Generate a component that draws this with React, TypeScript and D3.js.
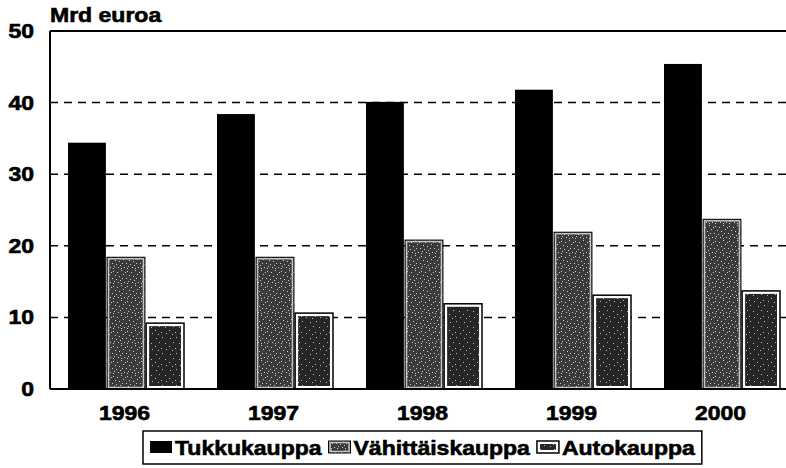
import React from "react";
import * as d3 from "d3";

const years = ["1996", "1997", "1998", "1999", "2000"];
const seriesNames = ["Tukkukauppa", "Vähittäiskauppa", "Autokauppa"];
const tukkukauppa = [34.4, 38.4, 40.1, 41.8, 45.4];
const vahittaiskauppa = [18.4, 18.4, 20.8, 21.9, 23.7];
const autokauppa = [9.2, 10.6, 11.9, 13.1, 13.7];
const yTicks = [0, 10, 20, 30, 40, 50];
const yTitle = "Mrd euroa";

const W = 786;
const H = 468;
const FONT = "'Liberation Sans', Arial, sans-serif";
const STRETCH = 1.15;

function measure(text: string, size: number) {
  if (typeof document === "undefined") return text.length * size * 0.6;
  const c = document.createElement("canvas");
  const ctx = c.getContext("2d");
  if (!ctx) return text.length * size * 0.6;
  ctx.font = `bold ${size}px 'Liberation Sans'`;
  return ctx.measureText(text).width;
}

function SText(props: { x: number; y: number; text: string; size: number; anchor?: string }) {
  const w = measure(props.text, props.size) * STRETCH;
  let x = props.x;
  if (props.anchor === "middle") x = props.x - w / 2;
  if (props.anchor === "end") x = props.x - w;
  return (
    <text
      x={x}
      y={props.y}
      fontFamily={FONT}
      fontWeight="bold"
      fontSize={props.size}
      textLength={w}
      lengthAdjust="spacingAndGlyphs"
      fill="#000"
      stroke="#000"
      strokeWidth={0.6}
    >
      {props.text}
    </text>
  );
}

// speckle positions for texture (styling only)
const speckA = [
  [1, 1], [5, 2], [9, 0], [3, 5], [7, 6], [11, 4], [0, 8], [4, 9], [8, 10], [10, 8], [2, 11], [6, 12], [12, 12], [13, 2], [9, 13], [1, 13],
];
const speckB = [
  [2, 2], [8, 1], [5, 6], [11, 7], [1, 10], [7, 12], [12, 13], [4, 14],
];

export default function App() {
  const margin = { left: 50, right: 0, top: 31, bottom: 79 };
  const plotRight = 795;
  const y0 = 389;
  const y = d3.scaleLinear().domain([0, 50]).range([y0, margin.top]);
  const x = d3.scaleBand<string>().domain(years).range([margin.left, plotRight]).padding(0);
  const inner = d3.scaleBand<number>().domain([0, 1, 2]).range([18, 134]).paddingInner(0.03);
  const series = [tukkukauppa, vahittaiskauppa, autokauppa];

  const drawBar = (s: number, bx: number, by: number, bw: number, bh: number, key: string) => {
    if (s === 0) {
      return <rect key={key} x={bx} y={by} width={bw} height={bh} fill="#000" />;
    }
    if (s === 1) {
      return (
        <g key={key}>
          <rect x={bx} y={by} width={bw} height={bh} fill="url(#patA)" stroke="#000" strokeWidth={1} />
          <rect x={bx + 1.5} y={by + 1.5} width={Math.max(0, bw - 3)} height={Math.max(0, bh - 3)} fill="none" stroke="#c4c4c4" strokeWidth={1.5} />
        </g>
      );
    }
    return (
      <g key={key}>
        <rect x={bx} y={by} width={bw} height={bh} fill="#fff" stroke="#000" strokeWidth={1.5} />
        <rect x={bx + 3} y={by + 3} width={Math.max(0, bw - 6)} height={Math.max(0, bh - 6)} fill="url(#patB)" />
      </g>
    );
  };

  // legend layout
  const legSize = 20;
  const legLeft = 143;
  const legTop = 431;
  const legBottom = 464;
  const swW = 22;
  const swH = 12;
  let cx = legLeft + 7;
  const legItems = seriesNames.map((name, i) => {
    const sx = cx;
    const tx = sx + swW + 3;
    const tw = measure(name, legSize) * STRETCH;
    cx = tx + tw + 7;
    return { name, i, sx, tx };
  });
  const legRight = cx;

  return (
    <svg width={W} height={H} style={{ position: "absolute", left: 0, top: 0, background: "#fff" }}>
      <defs>
        <pattern id="patA" width={14} height={15} patternUnits="userSpaceOnUse">
          <rect width={14} height={15} fill="#3a3a3a" />
          {speckA.map(([px, py], k) => (
            <rect key={k} x={px} y={py} width={1} height={1} fill="#d0d0d0" />
          ))}
        </pattern>
        <pattern id="patB" width={14} height={16} patternUnits="userSpaceOnUse">
          <rect width={14} height={16} fill="#262626" />
          {speckB.map(([px, py], k) => (
            <rect key={k} x={px} y={py} width={1} height={1} fill="#bdbdbd" />
          ))}
        </pattern>
      </defs>

      {/* gridlines */}
      {yTicks.filter((t) => t > 0 && t < 50).map((t) => (
        <line key={t} x1={margin.left} x2={W} y1={y(t)} y2={y(t)} stroke="#000" strokeWidth={1.5} strokeDasharray="8,6" />
      ))}

      {/* bars */}
      {years.map((yr, gi) =>
        series.map((vals, s) => {
          const bx = (x(yr) as number) + (inner(s) as number);
          const bw = inner.bandwidth();
          const by = y(vals[gi]);
          return drawBar(s, bx, by, bw, y0 - by, `${yr}-${s}`);
        })
      )}

      {/* frame */}
      <line x1={margin.left} x2={W} y1={margin.top} y2={margin.top} stroke="#000" strokeWidth={2} />
      <line x1={margin.left} x2={W} y1={y0} y2={y0} stroke="#000" strokeWidth={2} />
      <line x1={margin.left} x2={margin.left} y1={margin.top} y2={y0} stroke="#000" strokeWidth={2} />

      {/* y labels */}
      {yTicks.map((t) => (
        <SText key={t} x={34} y={y(t) + 7} text={String(t)} size={20} anchor="end" />
      ))}
      <SText x={50} y={22} text={yTitle} size={20} />

      {/* x labels */}
      {years.map((yr) => (
        <SText key={yr} x={(x(yr) as number) + x.bandwidth() / 2} y={420} text={yr} size={20} anchor="middle" />
      ))}

      {/* legend */}
      <rect x={legLeft} y={legTop} width={legRight - legLeft} height={legBottom - legTop} fill="#fff" stroke="#000" strokeWidth={1.5} />
      {legItems.map((it) => (
        <g key={it.name}>
          {drawBar(it.i, it.sx, 441, swW, swH, "sw" + it.i)}
          <SText x={it.tx} y={455} text={it.name} size={legSize} />
        </g>
      ))}
    </svg>
  );
}
